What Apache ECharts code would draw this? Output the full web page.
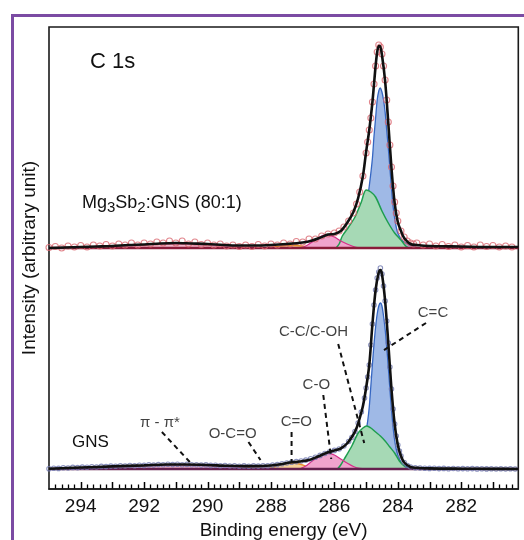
<!DOCTYPE html>
<html><head><meta charset="utf-8">
<script src="https://cdn.jsdelivr.net/npm/echarts@6/dist/echarts.min.js"></script>
<style>html,body{margin:0;padding:0;background:#fff}#c{width:524px;height:540px}</style>
</head><body><div id="c"></div>
<script>
const FONT = '"Liberation Sans", Arial, sans-serif';
// axis
const X_MIN = 280.2, X_MAX = 295;
const LABEL_TICKS = [282, 284, 286, 288, 290, 292, 294];
const MAJOR_TICKS = [281, 282, 283, 284, 285, 286, 287, 288, 289, 290, 291, 292, 293, 294];
// vertical offsets of the two stacked spectra (arbitrary intensity units)
const BASE_GNS = 20;
const BASE_MG = 241;

// ---- GNS (lower) : [binding energy, intensity above its baseline]
const GNS_CC = [[285.9,0],[285.7,1],[285.5,3],[285.35,7],[285.2,13],[285.1,22],[285.0,38],[284.95,48],[284.9,62],[284.85,83],[284.8,105],[284.75,125],[284.7,142],[284.65,155],[284.6,163],[284.55,166],[284.5,163],[284.45,153],[284.4,140],[284.35,122],[284.3,102],[284.25,80],[284.2,60],[284.15,42],[284.1,29],[284.05,20],[284.0,14],[283.9,7],[283.8,3.5],[283.6,1],[283.4,0]];
const GNS_CCOH = [[285.9,0],[285.8,4],[285.65,12],[285.45,23],[285.25,36],[285.1,41],[284.98,43],[284.85,41],[284.7,37],[284.55,33],[284.4,28],[284.25,22],[284.1,16],[283.95,8],[283.8,3],[283.65,0]];
const GNS_CO = [[287.1,0],[286.9,3],[286.7,8],[286.5,12],[286.3,15.5],[286.2,16],[286.0,14],[285.8,10],[285.6,6],[285.4,2.5],[285.2,0.5],[285.0,0]];
const GNS_CEO = [[288.2,0],[288.0,1],[287.8,3],[287.6,5],[287.35,6],[287.1,5],[286.9,3],[286.7,1],[286.5,0]];
const GNS_OCO = [[289.2,0],[288.9,0.8],[288.6,1.4],[288.3,1.2],[288.0,0.6],[287.7,0]];
const GNS_PI = [[295,0.3],[294,1],[293,2],[292,3],[291,4],[290.5,4],[290,3.5],[289.5,2.5],[289,1.5],[288.5,0.8],[288,0.3],[287.5,0]];
const GNS_FIT = [[295,0.3],[294,1.5],[293,2.6],[292,3.6],[291.3,4.5],[290.7,4.5],[290,4],[289.4,3.2],[288.8,2.9],[288.3,3],[288,3.5],[287.7,4.8],[287.4,6.5],[287.1,7.5],[286.8,9],[286.5,12.8],[286.2,16.8],[286,18.5],[285.8,20.5],[285.6,25.5],[285.4,34.5],[285.3,41],[285.2,51],[285.1,63],[285,81],[284.9,104],[284.8,145],[284.7,179],[284.6,197],[284.55,199],[284.5,195],[284.4,168],[284.3,126],[284.2,80],[284.1,45],[284,24],[283.9,13],[283.8,6.5],[283.6,2],[283.4,1.2],[283,0.6],[282,0.3],[281,0.15],[280.2,0]];
const GNS_DATA = [[295.0,0.3],[294.85,0.8],[294.7,0.6],[294.55,1.2],[294.4,1.0],[294.25,1.6],[294.1,1.4],[293.95,1.9],[293.8,1.7],[293.65,2.2],[293.5,2.0],[293.35,2.6],[293.2,2.4],[293.05,2.9],[292.9,2.7],[292.75,3.2],[292.6,3.0],[292.45,3.5],[292.3,3.3],[292.15,3.8],[292.0,3.6],[291.85,4.1],[291.7,3.9],[291.55,4.4],[291.4,4.2],[291.25,4.7],[291.1,4.4],[290.95,4.7],[290.8,4.3],[290.65,4.6],[290.5,4.2],[290.35,4.3],[290.2,3.9],[290.05,4.1],[289.9,3.6],[289.75,3.7],[289.6,3.3],[289.45,3.5],[289.3,3.0],[289.15,3.2],[289.0,2.8],[288.85,3.1],[288.7,2.8],[288.55,3.1],[288.4,2.9],[288.25,3.2],[288.1,3.3],[287.95,3.9],[287.8,4.4],[287.65,5.3],[287.5,6.0],[287.35,6.8],[287.2,7.4],[287.05,8.0],[286.9,8.9],[286.75,10.2],[286.6,11.8],[286.45,13.6],[286.3,15.5],[286.15,17.3],[286.0,18.6],[285.85,20],[285.7,23],[285.55,27.5],[285.45,31.5],[285.35,37.5],[285.25,46],[285.15,57],[285.05,71],[285.0,81],[284.95,92],[284.9,104],[284.85,124],[284.8,145],[284.75,164],[284.7,179],[284.65,191],[284.6,197],[284.55,201],[284.5,195],[284.45,183],[284.4,168],[284.35,148],[284.3,126],[284.25,102],[284.2,80],[284.15,60],[284.1,45],[284.05,33],[284.0,24],[283.95,18],[283.9,13],[283.8,6.5],[283.7,3.5],[283.6,2.0],[283.45,1.3],[283.3,1.0],[283.15,0.8],[283.0,0.6],[282.85,0.7],[282.7,0.4],[282.55,0.6],[282.4,0.3],[282.25,0.5],[282.1,0.2],[281.95,0.4],[281.8,0.2],[281.65,0.4],[281.5,0.1],[281.35,0.3],[281.2,0.1],[281.05,0.3],[280.9,0.0],[280.75,0.2],[280.6,0.0],[280.45,0.2],[280.3,0.0]];

// ---- Mg3Sb2:GNS (upper)
const MG_CC = [[285.9,0],[285.7,1],[285.5,3],[285.35,7],[285.2,13],[285.1,22],[285.0,38],[284.95,50],[284.9,62],[284.85,75],[284.8,90],[284.75,112],[284.7,130],[284.65,148],[284.6,157],[284.56,160],[284.5,156],[284.45,148],[284.4,136],[284.35,118],[284.3,100],[284.25,80],[284.2,60],[284.15,42],[284.1,30],[284.05,21],[284.0,15],[283.9,9],[283.8,6],[283.6,2.5],[283.4,0.5],[283.2,0]];
const MG_CCOH = [[285.95,0],[285.85,4],[285.75,12],[285.55,21],[285.35,31],[285.15,46],[285.0,58],[284.85,56],[284.7,51],[284.5,37],[284.3,25],[284.1,15],[283.9,8],[283.75,2],[283.65,0]];
const MG_CO = [[287.1,0],[286.9,2],[286.7,6],[286.5,10],[286.3,13],[286.2,13],[286.0,11],[285.8,7],[285.6,4],[285.4,1.5],[285.2,0]];
const MG_CEO = [[288.1,0],[287.8,1.5],[287.5,2.5],[287.2,2.5],[286.9,1.5],[286.6,0.5],[286.4,0]];
const MG_PI = [[294.5,0],[294,0.5],[293,1.5],[292,3],[291.3,4],[290.5,3.5],[290,3],[289.5,2],[289,1.2],[288.5,0.6],[288,0.2],[287.5,0]];
const MG_FIT = [[295,0],[294.5,0.5],[294,1],[293.5,1.5],[293,2],[292.5,3],[292,3.5],[291.5,4.5],[291,5],[290.5,4.5],[290,4],[289.5,3],[289,2.5],[288.5,2.5],[288,3],[287.5,4],[287,5.5],[286.7,7.5],[286.4,11],[286.2,13.5],[286,14],[285.8,17],[285.6,25],[285.4,36],[285.25,50],[285.1,72],[285,96],[284.9,118],[284.8,146],[284.75,164],[284.7,182],[284.65,196],[284.6,202],[284.56,202],[284.5,193],[284.4,167],[284.3,125],[284.2,80],[284.1,45],[284,26],[283.9,17],[283.8,10],[283.6,4],[283.4,3],[283,2],[282,1.5],[281,1],[280.2,1]];
const MG_DATA = [[295.0,0.5],[294.8,1.5],[294.6,0],[294.4,2],[294.2,1],[294.0,2.5],[293.8,1],[293.6,3],[293.4,2],[293.2,3.5],[293.0,2],[292.8,4],[292.6,3],[292.4,5],[292.2,3],[292.0,5],[291.8,4],[291.6,6],[291.4,5],[291.2,7],[291.0,5],[290.8,7],[290.6,4],[290.4,6],[290.2,3.5],[290.0,5],[289.8,3],[289.6,4],[289.4,2],[289.2,3],[289.0,1.5],[288.8,3],[288.6,1.5],[288.4,3.5],[288.2,2],[288.0,4],[287.8,3],[287.6,5],[287.4,4],[287.2,6.5],[287.0,6],[286.8,9],[286.6,9],[286.4,12],[286.2,14],[286.0,15],[285.85,17],[285.7,21],[285.55,27],[285.4,35],[285.3,44],[285.2,56],[285.1,72],[285.0,95],[284.95,106],[284.9,118],[284.85,130],[284.8,146],[284.75,164],[284.7,182],[284.65,196],[284.6,203],[284.55,201],[284.5,194],[284.45,182],[284.4,168],[284.35,148],[284.3,126],[284.25,103],[284.2,81],[284.15,62],[284.1,46],[284.05,35],[284.0,27],[283.9,17],[283.8,11],[283.7,7],[283.6,5],[283.5,4],[283.4,5],[283.2,3],[283.0,4],[282.8,2],[282.6,3.5],[282.4,1.5],[282.2,3],[282.0,1],[281.8,2.5],[281.6,1],[281.4,3],[281.2,1.5],[281.0,2.5],[280.8,1],[280.6,2],[280.4,1]];

// ---- annotations (lower panel), intensity relative to GNS baseline
const ANNOT_TEXT = ['\u03c0 - \u03c0*', 'O-C=O', 'C=O', 'C-O', 'C-C/C-OH', 'C=C'];
const ANNOT_LABEL = [[291.5,46],[289.21,35],[287.2,47],[286.57,84],[286.66,137],[282.89,156]];
const ANNOT_FROM = [[291.44,37],[288.71,27],[287.35,37],[286.35,74],[285.88,125],[283.11,146]];
const ANNOT_TO = [[290.53,6],[288.33,9],[287.35,7],[286.1,10],[285.06,26],[284.53,117]];

const shift = (arr, b) => arr.map(p => [p[0], p[1] + b]);

function comp(data, base, fill, stroke, z, w) {
  return {
    type: 'line', data: shift(data, base), symbol: 'none', smooth: 0.3, silent: true, z: z,
    lineStyle: { color: stroke, width: w || 1.3 },
    areaStyle: { color: fill, opacity: 1, origin: base }
  };
}
function flat(base, color) {
  return { type: 'line', data: [[X_MAX, base], [X_MIN, base]], symbol: 'none', silent: true, z: 4,
    lineStyle: { color: color, width: 2.6 } };
}
function fit(data, base) {
  return { type: 'line', data: shift(data, base), symbol: 'none', smooth: 0.3, silent: true, z: 7,
    lineStyle: { color: '#111', width: 2.6 } };
}
function pts(data, base, color, size) {
  return { type: 'scatter', data: shift(data, base), symbol: 'circle', symbolSize: size, silent: true, z: 6,
    itemStyle: { color: 'rgba(255,255,255,0)', borderColor: color, borderWidth: 1.1 } };
}

const minorTicks = [];
for (let t = 280; t <= 294; t++) for (let k = 1; k < 5; k++) { const v = +(t + k * 0.2).toFixed(1); if (v > X_MIN) minorTicks.push(v); }

const series = [
  comp(MG_PI, BASE_MG, '#f4b6cb', '#e27aa0', 2),
  comp(MG_CEO, BASE_MG, '#f7d39c', '#e8902c', 2),
  comp(MG_CC, BASE_MG, '#9fb9e6', '#3566c2', 2),
  comp(MG_CCOH, BASE_MG, '#a6d9b5', '#1f9e4f', 3, 1.5),
  comp(MG_CO, BASE_MG, '#f0a4cd', '#d7308a', 3),
  flat(BASE_MG, '#8a1c3a'),
  pts(MG_DATA, BASE_MG, '#d9676f', 6),
  fit(MG_FIT, BASE_MG),
  comp(GNS_PI, BASE_GNS, '#f4b6cb', '#e27aa0', 2),
  comp(GNS_OCO, BASE_GNS, '#e9c9a4', '#b87a48', 2),
  comp(GNS_CEO, BASE_GNS, '#f7d39c', '#e8902c', 2),
  comp(GNS_CC, BASE_GNS, '#9fb9e6', '#3566c2', 2),
  comp(GNS_CCOH, BASE_GNS, '#a6d9b5', '#1f9e4f', 3, 1.5),
  comp(GNS_CO, BASE_GNS, '#f0a4cd', '#d7308a', 3),
  flat(BASE_GNS, '#64204e'),
  pts(GNS_DATA, BASE_GNS, '#6f78b0', 4.5),
  fit(GNS_FIT, BASE_GNS)
];
for (let i = 0; i < ANNOT_TEXT.length; i++) {
  series.push({ type: 'line', data: [[ANNOT_FROM[i][0], ANNOT_FROM[i][1] + BASE_GNS], [ANNOT_TO[i][0], ANNOT_TO[i][1] + BASE_GNS]],
    symbol: 'none', silent: true, z: 9, lineStyle: { color: '#111', width: 2, type: [5, 4] } });
}
series.push({
  type: 'scatter', z: 10, silent: true, symbolSize: 1, itemStyle: { color: 'rgba(0,0,0,0)' },
  data: ANNOT_TEXT.map((t, i) => ({ name: t, value: [ANNOT_LABEL[i][0], ANNOT_LABEL[i][1] + BASE_GNS] })),
  label: { show: true, position: 'inside', formatter: '{b}', fontFamily: FONT, fontSize: 15, color: '#111' }
});

const chart = echarts.init(document.getElementById('c'));
chart.setOption({
  animation: false,
  backgroundColor: '#fff',
  grid: { left: 49, right: 524 - 518.3, top: 27, bottom: 51, show: true, borderColor: '#1a1a1a', borderWidth: 1.6,
    backgroundColor: 'transparent', outerBoundsMode: 'none', containLabel: false },
  xAxis: {
    type: 'value', inverse: true, min: X_MIN, max: X_MAX, position: 'bottom',
    axisLine: { show: true, onZero: false, lineStyle: { color: '#1a1a1a', width: 1.6 } },
    axisTick: { show: false },
    axisLabel: { customValues: LABEL_TICKS, fontFamily: FONT, fontSize: 19, color: '#111', margin: 8, hideOverlap: false },
    splitLine: { show: false },
    name: 'Binding energy (eV)', nameLocation: 'middle', nameGap: 31,
    nameTextStyle: { fontFamily: FONT, fontSize: 19, color: '#111' }
  },
  yAxis: {
    type: 'value', min: 0, max: 462,
    axisLine: { show: false }, axisTick: { show: false }, axisLabel: { show: false }, splitLine: { show: false },
    name: 'Intensity (arbitrary unit)', nameLocation: 'middle', nameGap: 10, nameRotate: 90,
    nameTextStyle: { fontFamily: FONT, fontSize: 19, color: '#111' }
  },
  series: series
});

// tick marks on a separate top layer, positioned with the chart's own x scale
const axisY = chart.convertToPixel({ yAxisIndex: 0 }, 0);
const tickGraphics = [];
function addTicks(values, len, width) {
  values.forEach(v => {
    const px = Math.round(chart.convertToPixel({ xAxisIndex: 0 }, v)) + 0.5;
    tickGraphics.push({ type: 'line', silent: true, zlevel: 10, z: 100,
      shape: { x1: px, y1: axisY - 0.5, x2: px, y2: axisY - len },
      style: { stroke: '#000', lineWidth: width } });
  });
}
addTicks(MAJOR_TICKS, 7, 1.5);
addTicks(minorTicks, 4.5, 1.3);

chart.setOption({
  graphic: [
    { type: 'rect', silent: true, shape: { x: 12.5, y: 15.5, width: 540, height: 560 },
      style: { fill: 'none', stroke: '#7b4ba3', lineWidth: 3 } },
    { type: 'text', x: 90, y: 62, silent: true,
      style: { text: 'C 1s', font: '22px ' + FONT, fill: '#111', verticalAlign: 'middle' } },
    { type: 'text', x: 82, y: 203, silent: true,
      style: { text: '{n|Mg}{s|3}{n|Sb}{s|2}{n|:GNS (80:1)}', verticalAlign: 'middle', fill: '#111',
        rich: { n: { fontSize: 18, fontFamily: FONT, color: '#111' },
                s: { fontSize: 15, fontFamily: FONT, color: '#111', padding: [10, 0, 0, 0] } } } },
    { type: 'text', x: 72, y: 442, silent: true,
      style: { text: 'GNS', font: '17px ' + FONT, fill: '#111', verticalAlign: 'middle' } }
  ].concat(tickGraphics)
});
</script></body></html>
